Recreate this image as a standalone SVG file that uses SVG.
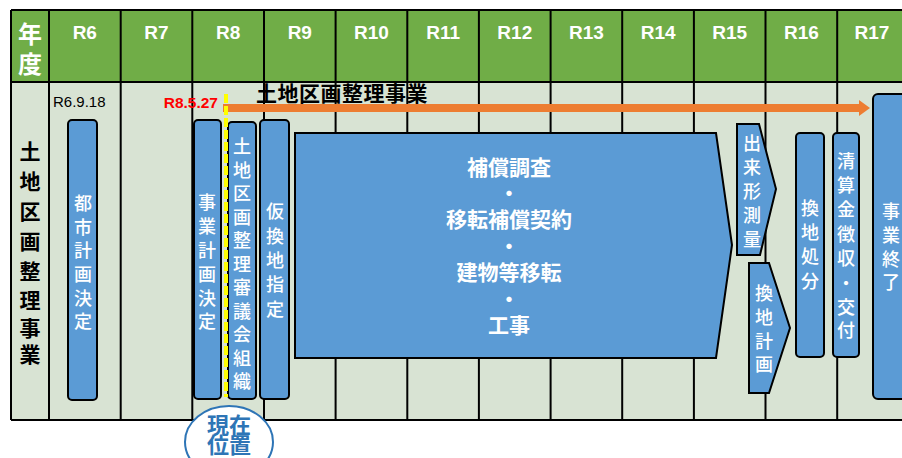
<svg xmlns="http://www.w3.org/2000/svg" width="902" height="458" viewBox="0 0 902 458">
<style>
.grid{stroke:#000;stroke-width:2;fill:none}
.box{fill:#5B9BD5;stroke:#000;stroke-width:2}
.hd{font-family:"Liberation Sans","Noto Sans CJK JP",sans-serif;font-weight:bold;font-size:19px;fill:#fff;text-anchor:middle;dominant-baseline:central}
.hj{font-family:"Noto Sans CJK JP",sans-serif;font-weight:bold;font-size:24px;fill:#fff;text-anchor:middle;dominant-baseline:central}
.vt{font-family:"Noto Sans CJK JP",sans-serif;font-weight:500;font-size:18px;fill:#fff;text-anchor:middle;dominant-baseline:central}
.big{font-family:"Noto Sans CJK JP",sans-serif;font-weight:bold;font-size:21px;fill:#fff;text-anchor:middle;dominant-baseline:central}
.lbl{font-family:"Noto Sans CJK JP",sans-serif;font-weight:bold;font-size:21px;fill:#000;text-anchor:middle;dominant-baseline:central}
.gz{font-family:"Noto Sans CJK JP",sans-serif;font-weight:bold;font-size:22px;fill:#2E75B6;text-anchor:middle;dominant-baseline:central}
</style>
<rect x="0" y="0" width="902" height="458" fill="#fff"/>
<g id="table">
<rect x="11" y="10" width="900" height="72" fill="#70AD47"/>
<rect x="11" y="82" width="900" height="338" fill="#D8E3D3"/>
<path class="grid" d="M11 10H902M11 82H902M11 420H902M11 10V420M49 10V420M120.7 10V420M192.3 10V420M264 10V420M335.6 10V420M407.3 10V420M478.9 10V420M550.6 10V420M622.2 10V420M693.9 10V420M765.5 10V420M837.2 10V420"/>
<text class="hj" x="30" y="32">年</text>
<text class="hj" x="30" y="62">度</text>
<text class="hd" x="84.8" y="32">R6</text>
<text class="hd" x="156.5" y="32">R7</text>
<text class="hd" x="228.2" y="32">R8</text>
<text class="hd" x="299.8" y="32">R9</text>
<text class="hd" x="371.5" y="32">R10</text>
<text class="hd" x="443.1" y="32">R11</text>
<text class="hd" x="514.8" y="32">R12</text>
<text class="hd" x="586.4" y="32">R13</text>
<text class="hd" x="658.1" y="32">R14</text>
<text class="hd" x="729.7" y="32">R15</text>
<text class="hd" x="801.4" y="32">R16</text>
<text class="hd" x="872" y="32">R17</text>
<text class="lbl"><tspan x="30" y="150">土</tspan><tspan x="30" y="180">地</tspan><tspan x="30" y="210">区</tspan><tspan x="30" y="240">画</tspan><tspan x="30" y="270">整</tspan><tspan x="30" y="299">理</tspan><tspan x="30" y="327">事</tspan><tspan x="30" y="353">業</tspan></text>
</g>
<g id="connectors">
<line x1="223" y1="108" x2="861" y2="108" stroke="#ED7D31" stroke-width="8"/>
<polygon points="859,100 870,108 859,116" fill="#ED7D31"/>
</g>
<g id="title">
<text x="256" y="92" font-family="Noto Sans CJK JP,sans-serif" font-weight="bold" font-size="21" fill="#000" dominant-baseline="central" letter-spacing="0.5">土地区画整理事業</text>
</g>
<g id="date-r6">
<text x="53" y="101" font-family="Liberation Sans,sans-serif" font-size="15" fill="#000" dominant-baseline="central">R6.9.18</text>
</g>
<g id="date-r8">
<text x="218" y="102" font-family="Liberation Sans,sans-serif" font-weight="bold" font-size="15.5" fill="#FF0000" text-anchor="end" dominant-baseline="central">R8.5.27</text>
</g>
<g id="n-toshikeikaku">
<rect class="box" x="68" y="120" width="29" height="280" rx="4"/>
<text class="vt"><tspan x="83" y="202">都</tspan><tspan x="83" y="226">市</tspan><tspan x="83" y="249">計</tspan><tspan x="83" y="273">画</tspan><tspan x="83" y="297">決</tspan><tspan x="83" y="320">定</tspan></text>
</g>
<g id="n-jigyokeikaku">
<rect class="box" x="194" y="120" width="27" height="279" rx="4"/>
<text class="vt"><tspan x="207" y="201">事</tspan><tspan x="207" y="225">業</tspan><tspan x="207" y="249">計</tspan><tspan x="207" y="273">画</tspan><tspan x="207" y="297">決</tspan><tspan x="207" y="320">定</tspan></text>
</g>
<g id="n-shingikai">
<rect class="box" x="228" y="122" width="28" height="277" rx="4"/>
<text class="vt"><tspan x="242" y="145">土</tspan><tspan x="242" y="168.5">地</tspan><tspan x="242" y="192">区</tspan><tspan x="242" y="215.5">画</tspan><tspan x="242" y="239">整</tspan><tspan x="242" y="262.5">理</tspan><tspan x="242" y="286">審</tspan><tspan x="242" y="309.5">議</tspan><tspan x="242" y="333">会</tspan><tspan x="242" y="356.5">組</tspan><tspan x="242" y="380">織</tspan></text>
</g>
<g id="current-line">
<line x1="226" y1="94" x2="226" y2="397" stroke="#FFFF00" stroke-width="4" stroke-dasharray="9 3"/>
</g>
<g id="n-karikanchi">
<rect class="box" x="260" y="120" width="29" height="279" rx="4"/>
<text class="vt"><tspan x="275" y="210">仮</tspan><tspan x="275" y="235">換</tspan><tspan x="275" y="259">地</tspan><tspan x="275" y="283">指</tspan><tspan x="275" y="308">定</tspan></text>
</g>
<g id="n-hosho">
<polygon class="box" points="295,133 716,133 732,245 716,358 295,358"/>
<text class="big" x="509" y="166">補償調査</text>
<text class="big" x="509" y="192">・</text>
<text class="big" x="509" y="218">移転補償契約</text>
<text class="big" x="509" y="245">・</text>
<text class="big" x="509" y="271">建物等移転</text>
<text class="big" x="509" y="298">・</text>
<text class="big" x="509" y="324">工事</text>
</g>
<g id="n-dekigata">
<polygon class="box" points="737,124 759,124 776,189 760,255 737,255"/>
<text class="vt"><tspan x="752" y="142">出</tspan><tspan x="752" y="166">来</tspan><tspan x="752" y="190">形</tspan><tspan x="752" y="214">測</tspan><tspan x="752" y="238">量</tspan></text>
</g>
<g id="n-kanchikeikaku">
<polygon class="box" points="749,263 769,263 790,328 769,393 749,393"/>
<text class="vt"><tspan x="764" y="292">換</tspan><tspan x="764" y="316">地</tspan><tspan x="764" y="340">計</tspan><tspan x="764" y="363">画</tspan></text>
</g>
<g id="n-kanchishobun">
<rect class="box" x="796" y="133" width="28" height="224" rx="4"/>
<text class="vt"><tspan x="810" y="207">換</tspan><tspan x="810" y="231">地</tspan><tspan x="810" y="255">処</tspan><tspan x="810" y="280">分</tspan></text>
</g>
<g id="n-seisan">
<rect class="box" x="833" y="133" width="26" height="224" rx="4"/>
<text class="vt"><tspan x="846" y="160">清</tspan><tspan x="846" y="184">算</tspan><tspan x="846" y="208">金</tspan><tspan x="846" y="233">徴</tspan><tspan x="846" y="257">収</tspan><tspan x="846" y="282">・</tspan><tspan x="846" y="306">交</tspan><tspan x="846" y="329">付</tspan></text>
</g>
<g id="n-shuryo">
<rect class="box" x="873" y="94" width="40" height="305" rx="5"/>
<text class="vt"><tspan x="891" y="210">事</tspan><tspan x="891" y="234">業</tspan><tspan x="891" y="258">終</tspan><tspan x="891" y="281">了</tspan></text>
</g>
<g id="n-genzai">
<ellipse cx="229" cy="442" rx="44" ry="36" fill="#fff" stroke="#2E75B6" stroke-width="2"/>
<text class="gz" x="229" y="423">現在</text>
<text class="gz" x="229" y="443">位置</text>
</g>
</svg>
